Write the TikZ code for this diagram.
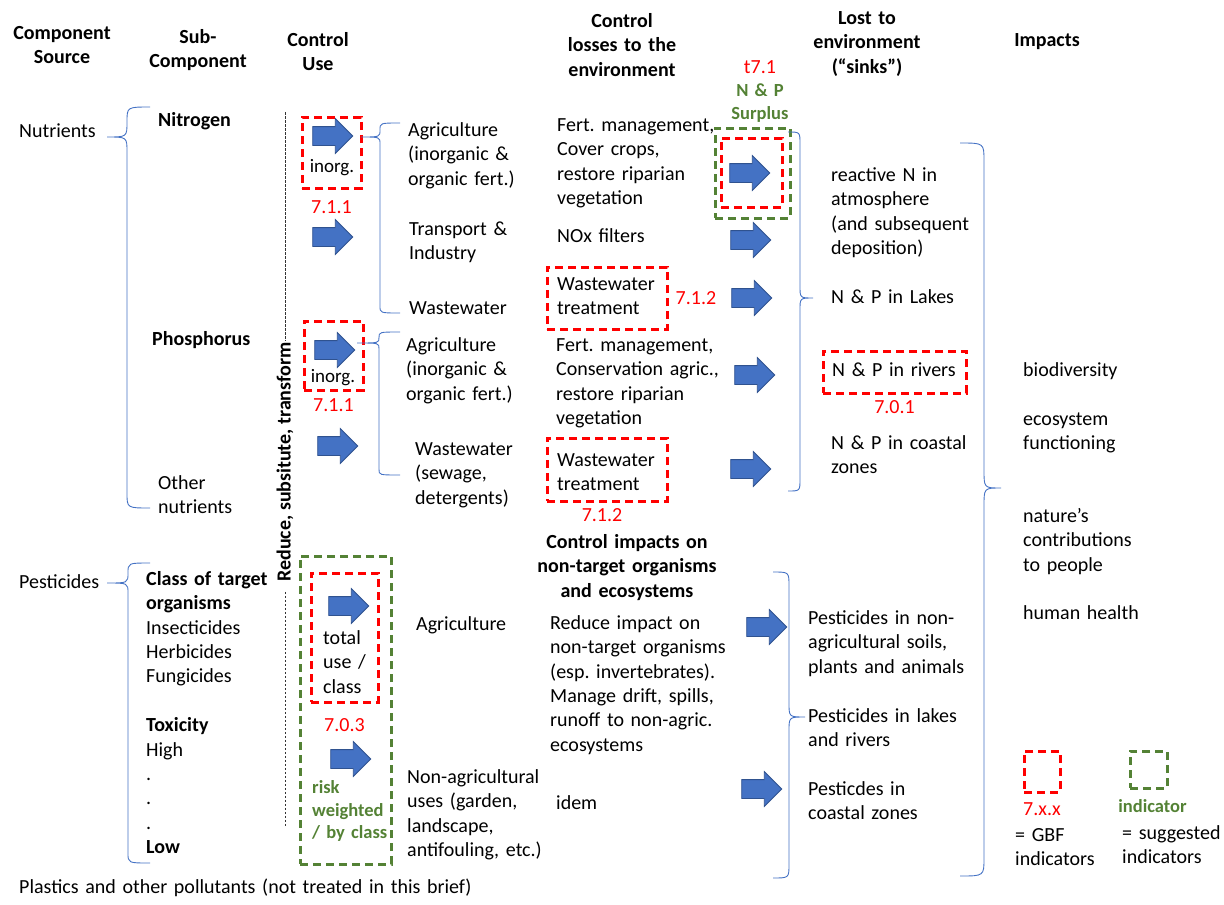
\documentclass[tikz,border=0pt]{standalone}
\usepackage{fontspec}
\setmainfont{Carlito}
\usetikzlibrary{positioning,shapes.arrows}
\definecolor{gbfred}{HTML}{FF0000}
\definecolor{indgreen}{HTML}{548235}
\definecolor{bracebl}{HTML}{4472C4}
\definecolor{arrfill}{HTML}{4472C4}
\definecolor{arrline}{HTML}{2F528F}
\frenchspacing
\tikzset{
    txt/.style={
           anchor=north west,
           yshift=11pt,
           inner sep=0pt,
           text width=470pt,
           align=left,
           font=\fontsize{20}{24.4}\selectfont,
           execute at begin node=\strut,
           },
    txtb/.style={txt, font=\fontsize{20}{24.4}\selectfont\bfseries},
    head/.style={txtb, anchor=north, align=center},
    gbfbox/.style={draw=gbfred, line width=3pt, dash pattern=on 8pt off 5pt, inner sep=0pt},
    indbox/.style={draw=indgreen, line width=3pt, dash pattern=on 8pt off 5pt, inner sep=0pt},
    gbflabel/.style={text=gbfred, inner sep=0pt, font=\fontsize{20}{24}\selectfont},
    indlabel/.style={text=indgreen, inner sep=0pt, font=\fontsize{18.5}{22.5}\selectfont\bfseries},
    flow/.style={
           single arrow,
           draw=arrline, fill=arrfill, line width=0.8pt,
           inner sep=0pt, inner ysep=9pt,
           minimum height=40pt,
           single arrow head extend=8pt,
           single arrow head indent=0pt,
           },
    bracket/.style={draw=bracebl, line width=0.9pt},
    dashline/.style={draw=black!80, line width=0.7pt, dash pattern=on 2.5pt off 1.5pt},
}
% ends x, spine x, tip x, top y, tip y, bottom y, radius
\newcommand{\bracepath}[7]{%
  \draw[bracket] (#1,#4) .. controls (#2,#4) .. (#2,{#4+#7})
    -- (#2,{#5-#7}) .. controls (#2,#5) .. (#3,#5)
    .. controls (#2,#5) .. (#2,{#5+#7})
    -- (#2,{#6-#7}) .. controls (#2,#6) .. (#1,#6);}

\begin{document}
\begin{tikzpicture}[x=1pt,y=-1pt]
 \useasboundingbox (0,0) rectangle (1224,905);

 % column headers
 \node[head] (hSource) at (62,33) {Component\\Source};
 \node[head] (hSub) at (198,37) {Sub-\\Component};
 \node[head] (hUse) at (318,40) {Control\\Use};
 \node[head] (hLoss) at (622,21) {Control\\losses to the\\environment};
 \node[head] (hSink) at (867,18) {Lost to\\environment\\(“sinks”)};
 \node[head] (hImpact) at (1047,40) {Impacts};

 % sources
 \node[txt] (nutrients) at (19,131) {Nutrients};
 \node[txt] (pesticides) at (19,582) {Pesticides};
 \node[txt] (plastics) at (19,887) {Plastics and other pollutants (not treated in this brief)};

 % sub-components
 \node[txtb] (nitrogen) at (158,120) {Nitrogen};
 \node[txtb] (phosphorus) at (152,339) {Phosphorus};
 \node[txt] (othernut) at (158,483) {Other\\nutrients};
 \node[txt] (classes) at (146,579)
  {\textbf{Class of target}\\\textbf{organisms}\\Insecticides\\Herbicides\\Fungicides\\[24.4pt]
   \textbf{Toxicity}\\High\\.\\.\\.\\\textbf{Low}};

 % reduce, substitute, transform
 \node[rotate=90, inner sep=2pt, font=\fontsize{20}{24}\selectfont\bfseries] (reduce) at (285,462)
  {Reduce, subsitute, transform};
 \coordinate (dashTop) at (285,112);
 \coordinate (dashBot) at (285,826);
 \draw[dashline] (dashTop) -- (reduce.east);
 \draw[dashline] ([yshift=-8pt]reduce.west) -- (dashBot);

 % control use
 \node[gbfbox, minimum width=59pt, minimum height=71pt] (boxInorgN) at (331.5,152.5) {};
 \node[gbflabel, below=11pt of boxInorgN] (lblInorgN) {7.1.1};
 \node[flow] (useAgriN) at (328,136) {};
 \node[inner sep=0pt, font=\fontsize{19}{22}\selectfont] (inorgN) at (332,168) {inorg.};
 \node[flow] (useTransport) at (328,237) {};

 \node[gbfbox, minimum width=59pt, minimum height=69pt] (boxInorgP) at (333.5,355.5) {};
 \node[gbflabel, below=7pt of boxInorgP] (lblInorgP) {7.1.1};
 \node[flow] (useAgriP) at (330,350) {};
 \node[inner sep=0pt, font=\fontsize{19}{22}\selectfont] (inorgP) at (333,378) {inorg.};
 \node[flow] (useWasteP) at (333,446) {};

 \node[indbox, minimum width=91pt, minimum height=308pt] (boxRisk) at (345.5,710) {};
 \node[gbfbox, minimum width=67pt, minimum height=129pt] (boxTotal) at (344.5,637.5) {};
 \node[gbflabel, below=15pt of boxTotal] (lblTotal) {7.0.3};
 \node[flow] (useAgriPest) at (344,606) {};
 \node[txt] (totalTxt) at (323,638) {total\\use /\\class};
 \node[flow] (useNonagri) at (346,759) {};
 \node[txtb, text=indgreen, font=\fontsize{18.5}{22.5}\selectfont\bfseries] (riskTxt) at (312,789) {risk\\weighted\\/ by class};

 % sub-component uses
 \node[txt] (agriN) at (408,130) {Agriculture\\(inorganic \&\\organic fert.)};
 \node[txt] (transport) at (409,229) {Transport \&\\Industry};
 \node[txt] (wasteN) at (409,308) {Wastewater};
 \node[txt] (agriP) at (406,345) {Agriculture\\(inorganic \&\\organic fert.)};
 \node[txt] (wasteP) at (415,449) {Wastewater\\(sewage,\\detergents)};
 \node[txt] (agriPest) at (416,624) {Agriculture};
 \node[txt] (nonagri) at (407,777) {Non-agricultural\\uses (garden,\\landscape,\\antifouling, etc.)};

 % control losses
 \node[txt] (ctrlAgriN) at (557,125) {Fert. management,\\Cover crops,\\restore riparian\\vegetation};
 \node[txt] (ctrlNOx) at (557,236) {NOx filters};
 \node[gbfbox, minimum width=120pt, minimum height=62pt] (boxWasteN) at (607,298) {};
 \node[txt] (ctrlWasteN) at (557,284) {Wastewater\\treatment};
 \node[gbflabel, right=7pt of boxWasteN] (lblWasteN) {7.1.2};
 \node[txt] (ctrlAgriP) at (556,345) {Fert. management,\\Conservation agric.,\\restore riparian\\vegetation};
 \node[gbfbox, minimum width=120pt, minimum height=63pt] (boxWasteP) at (607,469.5) {};
 \node[txt] (ctrlWasteP) at (557,460) {Wastewater\\treatment};
 \node[gbflabel, below=6pt of boxWasteP, xshift=-5pt] (lblWasteP) {7.1.2};

 \node[head] (hImpactCtrl) at (627,542) {Control impacts on\\non-target organisms\\and ecosystems};
 \node[txt] (ctrlAgriPest) at (550,623) {Reduce impact on\\non-target organisms\\(esp. invertebrates).\\Manage drift, spills,\\runoff to non-agric.\\ecosystems};
 \node[txt] (ctrlNonagri) at (556,803) {idem};

 % losses
 \node[indbox, minimum width=75pt, minimum height=90pt] (boxSurplus) at (752.5,173) {};
 \node[gbfbox, minimum width=61pt, minimum height=69pt] (boxSurplusIn) at (751.5,172.5) {};
 \node[head, text width=120pt, text=indgreen, font=\fontsize{18.5}{23}\selectfont\bfseries] (lblSurplus) at (760,91) {N \& P\\Surplus};
 \node[gbflabel, above=6pt of lblSurplus] (lblT71) {t7.1};
 \node[flow] (lossAgriN) at (745,173) {};
 \node[flow] (lossNOx) at (746,240) {};
 \node[flow] (lossWasteN) at (747,298) {};
 \node[flow] (lossAgriP) at (750,375) {};
 \node[flow] (lossWasteP) at (746,469) {};
 \node[flow] (lossAgriPest) at (762,627) {};
 \node[flow] (lossNonagri) at (757,789) {};

 % sinks
 \node[txt] (sinkAir) at (831,175) {reactive N in\\atmosphere\\(and subsequent\\deposition)};
 \node[txt] (sinkLakes) at (831,297) {N \& P in Lakes};
 \node[gbfbox, minimum width=143pt, minimum height=42pt] (boxRivers) at (894.5,372) {};
 \node[txt] (sinkRivers) at (832,370) {N \& P in rivers};
 \node[gbflabel, below=6pt of boxRivers] (lblRivers) {7.0.1};
 \node[txt] (sinkCoast) at (831,443) {N \& P in coastal\\zones};
 \node[txt] (sinkSoil) at (808,618) {Pesticides in non-\\agricultural soils,\\plants and animals};
 \node[txt] (sinkFresh) at (808,716) {Pesticides in lakes\\and rivers};
 \node[txt] (sinkSea) at (808,789) {Pesticdes in\\coastal zones};

 % impacts
 \node[txt] (biodiv) at (1023,370) {biodiversity};
 \node[txt] (ecofunc) at (1023,419) {ecosystem\\functioning};
 \node[txt] (ncp) at (1023,516) {nature’s\\contributions\\to people};
 \node[txt] (health) at (1023,613) {human health};

 % legend
 \node[gbfbox, minimum width=36pt, minimum height=41pt] (legRed) at (1042,771.5) {};
 \node[gbflabel, below=9pt of legRed] (legRedLbl) {7.x.x};
 \node[txt] (legRedTxt) at (1015,835) {= GBF\\indicators};
 \node[indbox, minimum width=37pt, minimum height=37pt] (legGreen) at (1148.5,769.5) {};
 \node[indlabel, below=10pt of legGreen, xshift=4pt] (legGreenLbl) {indicator};
 \node[txt] (legGreenTxt) at (1122,833) {= suggested\\indicators};

 % braces
 \bracepath{150}{127}{107}{107}{137}{508}{15}
 \bracepath{150}{128}{107}{563}{583}{863}{10}
 \bracepath{400}{380}{361}{123}{137}{313}{7}
 \bracepath{400}{379}{357}{332}{343}{475}{5.5}
 \bracepath{788}{800}{813}{132}{298}{491}{12}
 \bracepath{773}{789}{805}{572}{717}{878}{14}
 \bracepath{960}{984}{1001}{143}{488}{876}{18}

\end{tikzpicture}
\end{document}
